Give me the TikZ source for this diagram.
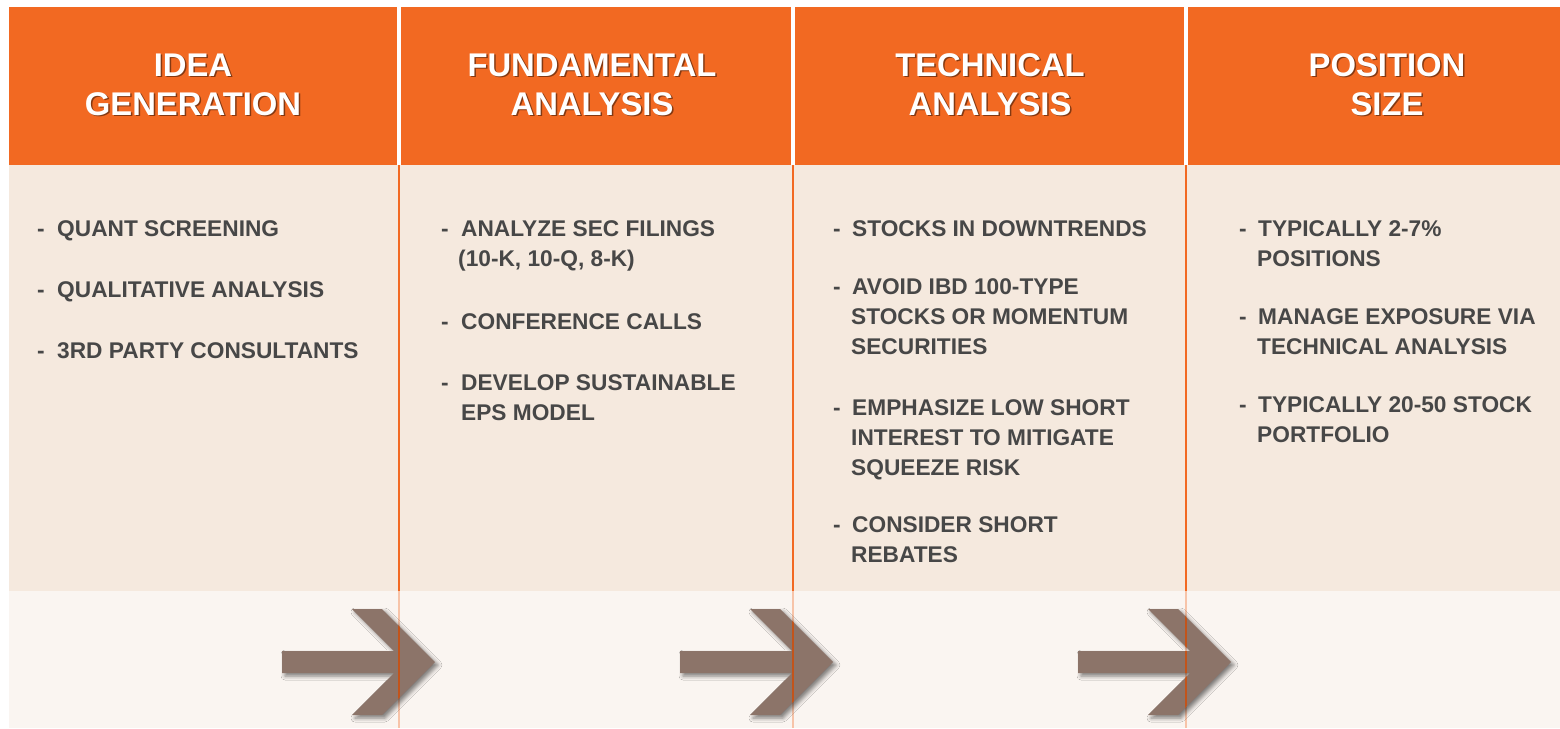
\documentclass[tikz,border=0pt]{standalone}
\usepackage{fontspec}
\setmainfont{Liberation Sans}
\usetikzlibrary{shadows.blur}
\definecolor{hdr}{HTML}{F26922}
\definecolor{bodybg}{HTML}{F5E9DE}
\definecolor{bandbg}{HTML}{FAF5F1}
\definecolor{arrowc}{HTML}{8C7469}
\definecolor{bodytext}{HTML}{474747}
\tikzset{
  hd/.style={font=\fontsize{32.8}{39}\selectfont\bfseries, text=white, anchor=base, inner sep=0pt},
  hdsh/.style={hd, text=black, text opacity=0.45},
  bt/.style={font=\fontsize{22.7}{29}\selectfont\bfseries, text=bodytext, anchor=base west, inner sep=0pt},
  flow/.style={fill=arrowc, blur shadow={shadow xshift=3pt, shadow yshift=-3pt, shadow blur radius=4pt, shadow opacity=50}}
}
\newcommand{\arrowpath}[1]{(#1,651) -- ++(112,0) -- ++(-42,-42) -- ++(30,0) -- ++(53,53) -- ++(-53,53) -- ++(-30,0) -- ++(42,-42) -- (#1,673) -- cycle}
\begin{document}
\begin{tikzpicture}[x=1pt,y=-1pt]
\useasboundingbox (0,0) rectangle (1560,728);
\fill[white] (0,0) rectangle (1560,728);
% header band, body and lower band
\fill[hdr] (9,7) rectangle (1560,165);
\fill[bodybg] (9,165) rectangle (1560,591);
\fill[bandbg] (9,591) rectangle (1560,728);
% column separators
\foreach \s in {399,793,1186} {
  \fill[white] (\s-2,7) rectangle (\s+2,165);
  \fill[hdr] (\s-1,165) rectangle (\s+1,591);
  \fill[hdr!35!bandbg] (\s-1,591) rectangle (\s+1,728);
}
% flow arrows
\foreach \a/\s in {282/399,680/793,1078/1186} {
  \path[flow] \arrowpath{\a};
  \begin{scope}
    \clip \arrowpath{\a};
    \fill[hdr!80!black] (\s-1,591) rectangle (\s+1,728);
  \end{scope}
}
% headings
\foreach \n/\x/\ta/\tb in {1/193/IDEA/GENERATION, 2/592/FUNDAMENTAL/ANALYSIS, 3/990/TECHNICAL/ANALYSIS, 4/1387/POSITION/SIZE} {
  \node[hdsh] (h\n as) at (\x+1.5,77.5) {\ta};
  \node[hd] (h\n a) at (\x,76) {\ta};
  \node[hdsh] (h\n bs) at (\x+1.5,116.5) {\tb};
  \node[hd] (h\n b) at (\x,115) {\tb};
}
% column 1
\node[bt] (c1d1) at (37,236) {-};
\node[bt] (c1t1) at (57,236) {QUANT SCREENING};
\node[bt] (c1d2) at (37,297) {-};
\node[bt] (c1t2) at (57,297) {QUALITATIVE ANALYSIS};
\node[bt] (c1d3) at (37,358) {-};
\node[bt] (c1t3) at (57,358) {3RD PARTY CONSULTANTS};
% column 2
\node[bt] (c2d1) at (441,236) {-};
\node[bt] (c2t1) at (461,236) {ANALYZE SEC FILINGS};
\node[bt] (c2t1b) at (458,266) {(10-K, 10-Q, 8-K)};
\node[bt] (c2d2) at (441,329) {-};
\node[bt] (c2t2) at (461,329) {CONFERENCE CALLS};
\node[bt] (c2d3) at (441,390) {-};
\node[bt] (c2t3) at (461,390) {DEVELOP SUSTAINABLE};
\node[bt] (c2t3b) at (461,420) {EPS MODEL};
% column 3
\node[bt] (c3d1) at (833,236) {-};
\node[bt] (c3t1) at (852,236) {STOCKS IN DOWNTRENDS};
\node[bt] (c3d2) at (833,294) {-};
\node[bt] (c3t2) at (852,294) {AVOID IBD 100-TYPE};
\node[bt] (c3t2b) at (851,324) {STOCKS OR MOMENTUM};
\node[bt] (c3t2c) at (851,354) {SECURITIES};
\node[bt] (c3d3) at (833,415) {-};
\node[bt] (c3t3) at (852,415) {EMPHASIZE LOW SHORT};
\node[bt] (c3t3b) at (851,445) {INTEREST TO MITIGATE};
\node[bt] (c3t3c) at (851,475) {SQUEEZE RISK};
\node[bt] (c3d4) at (833,532) {-};
\node[bt] (c3t4) at (852,532) {CONSIDER SHORT};
\node[bt] (c3t4b) at (851,562) {REBATES};
% column 4
\node[bt] (c4d1) at (1239,236) {-};
\node[bt] (c4t1) at (1258,236) {TYPICALLY 2-7\%};
\node[bt] (c4t1b) at (1257,266) {POSITIONS};
\node[bt] (c4d2) at (1239,324) {-};
\node[bt] (c4t2) at (1258,324) {MANAGE EXPOSURE VIA};
\node[bt] (c4t2b) at (1257,354) {TECHNICAL ANALYSIS};
\node[bt] (c4d3) at (1239,412) {-};
\node[bt] (c4t3) at (1258,412) {TYPICALLY 20-50 STOCK};
\node[bt] (c4t3b) at (1257,442) {PORTFOLIO};
\end{tikzpicture}
\end{document}
